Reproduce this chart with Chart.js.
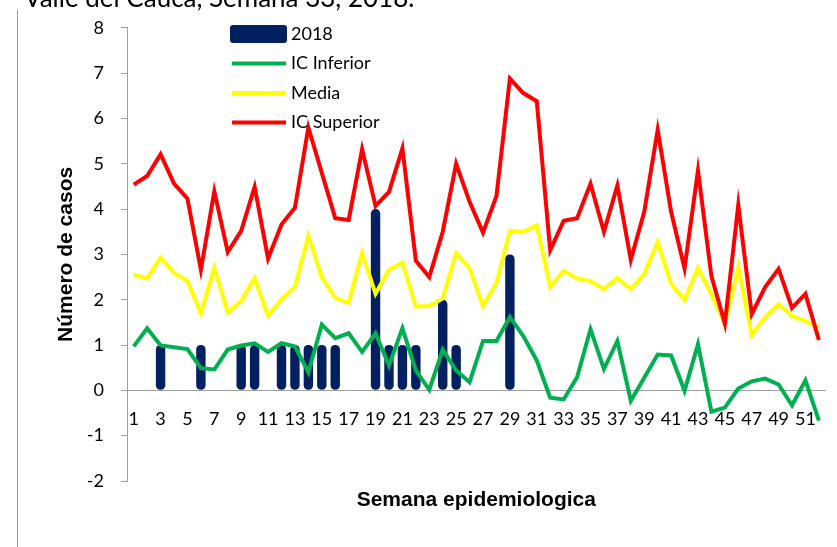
<!DOCTYPE html>
<html>
<head>
<meta charset="utf-8">
<script src="https://cdn.jsdelivr.net/npm/chart.js@4"></script>
<style>
  html, body { margin: 0; padding: 0; background: #fff; }
  #wrap { position: relative; width: 837px; height: 547px; overflow: hidden; }
  #chart { position: absolute; left: 0; top: 0; }
  #frame { position: absolute; left: 17px; top: 10px; bottom: 0; border-left: 1px solid #9a9a9a; }
  #title { position: absolute; left: 24px; top: -16px; font: 26px Lato, sans-serif; line-height: 26px; color: #000; white-space: nowrap; }
</style>
</head>
<body>
<div id="wrap">
  <canvas id="chart" width="837" height="547"></canvas>
  <div id="frame"></div>
  <div id="title">Valle del Cauca, Semana 33, 2018.</div>
</div>
<script>
// Data
const weeks = ['1','2','3','4','5','6','7','8','9','10','11','12','13','14','15','16','17','18','19','20',
  '21','22','23','24','25','26','27','28','29','30','31','32','33','34','35','36','37','38','39','40',
  '41','42','43','44','45','46','47','48','49','50','51','52'];

const cases2018 = [0, 0, 1, 0, 0, 1, 0, 0, 1, 1, 0, 1, 1, 1, 1, 1, 0, 0, 4, 1,
  1, 1, 0, 2, 1, 0, 0, 0, 3, 0, 0, 0, 0, null, null, null, null, null, null, null,
  null, null, null, null, null, null, null, null, null, null, null, null];

const icInferior = [0.97, 1.37, 0.99, 0.95, 0.91, 0.49, 0.46, 0.90, 0.99, 1.04,
  0.85, 1.04, 0.97, 0.40, 1.45, 1.15, 1.26, 0.85, 1.26, 0.55,
  1.37, 0.44, 0.01, 0.90, 0.44, 0.18, 1.09, 1.09, 1.62, 1.20,
  0.66, -0.16, -0.20, 0.29, 1.35, 0.47, 1.09, -0.23, 0.28, 0.79,
  0.77, -0.01, 1.02, -0.47, -0.38, 0.04, 0.20, 0.26, 0.13, -0.33,
  0.22, -0.67];

const media = [2.55, 2.47, 2.93, 2.59, 2.41, 1.70, 2.70, 1.72, 1.97, 2.48,
  1.64, 2.01, 2.28, 3.41, 2.50, 2.04, 1.93, 3.03, 2.13, 2.66,
  2.82, 1.85, 1.86, 2.03, 3.03, 2.69, 1.86, 2.37, 3.52, 3.50,
  3.64, 2.28, 2.64, 2.47, 2.41, 2.23, 2.48, 2.23, 2.57, 3.27,
  2.35, 1.99, 2.70, 2.12, 1.46, 2.72, 1.22, 1.61, 1.90, 1.64,
  1.53, 1.39];

const icSuperior = [4.54, 4.73, 5.21, 4.56, 4.23, 2.66, 4.39, 3.05, 3.52, 4.49,
  2.91, 3.66, 4.03, 5.80, 4.80, 3.80, 3.76, 5.32, 4.07, 4.38,
  5.34, 2.86, 2.50, 3.50, 5.00, 4.16, 3.48, 4.29, 6.88, 6.56,
  6.38, 3.09, 3.74, 3.80, 4.56, 3.50, 4.52, 2.88, 3.94, 5.75,
  3.94, 2.69, 4.85, 2.52, 1.47, 4.09, 1.68, 2.28, 2.68, 1.82,
  2.13, 1.11];

const xTitle = 'Semana epidemiologica';
const yTitle = 'Número de casos';

Chart.defaults.font.family = 'Lato';
Chart.defaults.color = '#000';

// Legend drawn inside the plot, top left
const insideLegend = {
  id: 'insideLegend',
  afterDraw(chart) {
    const ctx = chart.ctx;
    ctx.save();
    ctx.font = '18px Lato';
    ctx.textBaseline = 'middle';
    chart.data.datasets.forEach((ds, i) => {
      const y = 34 + i * 29.5;
      if (ds.type === 'line') {
        ctx.strokeStyle = ds.borderColor;
        ctx.lineWidth = 4;
        ctx.beginPath();
        ctx.moveTo(232, y);
        ctx.lineTo(286, y);
        ctx.stroke();
      } else {
        ctx.fillStyle = ds.backgroundColor;
        ctx.beginPath();
        ctx.roundRect(230, y - 9, 57, 18, 3);
        ctx.fill();
      }
      ctx.fillStyle = '#000';
      ctx.fillText(ds.label, 291, y);
    });
    // x axis title under the plot
    const area = chart.chartArea;
    ctx.font = 'bold 21px "Liberation Sans"';
    ctx.textAlign = 'center';
    ctx.textBaseline = 'alphabetic';
    ctx.fillText(xTitle, (area.left + area.right) / 2, 506);
    ctx.restore();
  }
};

const chart = new Chart(document.getElementById('chart'), {
  type: 'bar',
  data: {
    labels: weeks,
    datasets: [{
      type: 'bar',
      label: '2018',
      data: cases2018,
      backgroundColor: '#002060',
      barPercentage: 0.7,
      categoryPercentage: 1,
      borderRadius: 4.5,
      borderSkipped: false,
      order: 4
    }, {
      type: 'line',
      label: 'IC Inferior',
      data: icInferior,
      borderColor: '#00B050',
      borderWidth: 4,
      pointRadius: 0,
      tension: 0,
      fill: false,
      order: 3
    }, {
      type: 'line',
      label: 'Media',
      data: media,
      borderColor: '#FFFF00',
      borderWidth: 4,
      pointRadius: 0,
      tension: 0,
      fill: false,
      order: 2
    }, {
      type: 'line',
      label: 'IC Superior',
      data: icSuperior,
      borderColor: '#FF0000',
      borderWidth: 4,
      pointRadius: 0,
      tension: 0,
      fill: false,
      order: 1
    }]
  },
  options: {
    responsive: false,
    animation: false,
    layout: { padding: { left: 0, right: 11, top: 24, bottom: 66 } },
    plugins: {
      legend: { display: false },
      tooltip: { enabled: false }
    },
    scales: {
      x: {
        position: { y: 0 },
        offset: true,
        grid: { display: false, drawTicks: false },
        border: { display: true, color: '#a0a0a0', width: 1 },
        ticks: {
          autoSkip: false,
          maxRotation: 0,
          padding: 18,
          font: { size: 18 },
          callback: function (v, i) {
            return i % 2 === 0 ? this.getLabelForValue(v) : '';
          }
        }
      },
      y: {
        min: -2,
        max: 8,
        ticks: { stepSize: 1, padding: 17, font: { size: 18 } },
        grid: { drawOnChartArea: false, tickLength: 6, color: '#a0a0a0' },
        border: { color: '#a0a0a0' },
        title: {
          display: true,
          text: yTitle,
          font: { family: 'Liberation Sans', size: 21, weight: 'bold' },
          padding: { top: 54, bottom: 0 }
        },
        afterFit(scale) { scale.width = 127; }
      }
    }
  },
  plugins: [insideLegend]
});
</script>
</body>
</html>
